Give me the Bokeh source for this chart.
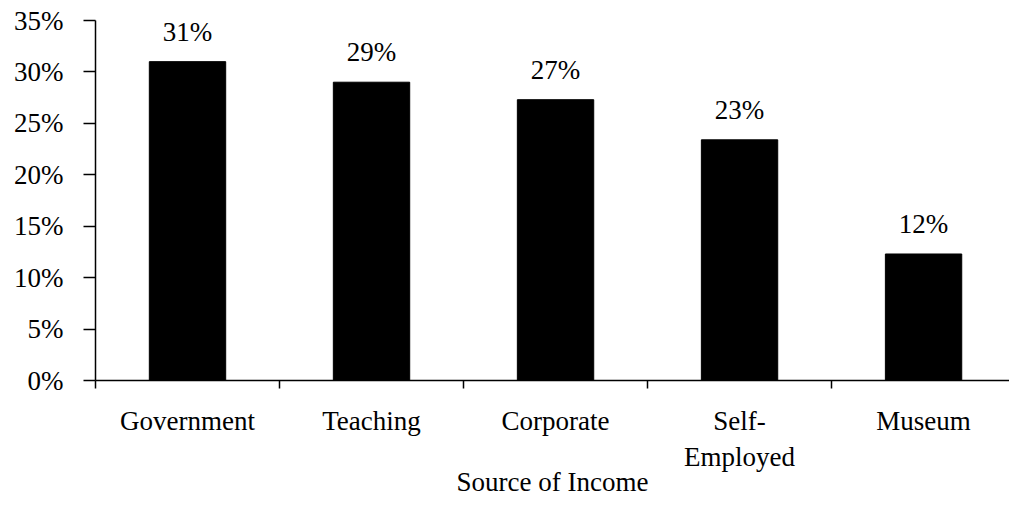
from bokeh.plotting import figure
from bokeh.models import ColumnDataSource, Range1d, FixedTicker, NumeralTickFormatter, CustomJSTickFormatter
from bokeh.core.properties import value
from bokeh.embed import file_html
from bokeh.resources import INLINE

# ---- data ----
categories = ["Government", "Teaching", "Corporate", "Self-Employed", "Museum"]
shares = [0.310, 0.290, 0.273, 0.234, 0.123]
y_ticks = [0.0, 0.05, 0.10, 0.15, 0.20, 0.25, 0.30, 0.35]
x_title = "Source of Income"

FONT = "Liberation Serif"
FS = "27px"

xs = [i + 0.5 for i in range(len(categories))]
labels = [f"{round(v * 100)}%" for v in shares]
src = ColumnDataSource(dict(x=xs, top=shares, label=labels))

p = figure(width=1009, height=516, output_backend="svg", toolbar_location=None,
           x_range=Range1d(0, 4.967), y_range=Range1d(0, 0.35),
           min_border_left=95, min_border_right=0, min_border_top=20, min_border_bottom=136)
p.outline_line_color = None
p.xgrid.grid_line_color = None
p.ygrid.grid_line_color = None
p.background_fill_color = "white"
p.border_fill_color = "white"

p.vbar(x="x", top="top", width=0.415, bottom=0, source=src,
       fill_color="black", line_color="black")

p.text(x="x", y="top", text="label", source=src, text_align="center",
       text_baseline="alphabetic", y_offset=-30,
       text_font=value(FONT), text_font_size=FS, text_color="black")

# y axis
ya = p.yaxis[0]
ya.ticker = FixedTicker(ticks=y_ticks)
ya.formatter = NumeralTickFormatter(format="0%")
ya.major_tick_out = 12
ya.major_tick_in = 0
ya.minor_tick_line_color = None
ya.axis_line_width = 1.5
ya.major_tick_line_width = 1.5
ya.axis_line_color = "black"
ya.major_tick_line_color = "black"
ya.major_label_standoff = 20
ya.major_label_text_font = FONT
ya.major_label_text_font_size = FS
ya.major_label_text_color = "black"

# x axis
xa = p.xaxis[0]
xa.ticker = FixedTicker(ticks=xs, minor_ticks=list(range(len(categories) + 1)))
xa.formatter = CustomJSTickFormatter(args=dict(names=categories),
                                     code="return names[Math.floor(tick)].replace('-', '-\\n');")
xa.major_tick_line_color = None
xa.major_tick_out = 0
xa.major_tick_in = 0
xa.minor_tick_out = 8
xa.minor_tick_in = 0
xa.minor_tick_line_width = 1.5
xa.minor_tick_line_color = "black"
xa.axis_line_width = 1.5
xa.axis_line_color = "black"
xa.major_label_standoff = 17
xa.major_label_text_font = FONT
xa.major_label_text_font_size = FS
xa.major_label_text_color = "black"
xa.axis_label = x_title
xa.axis_label_text_font = FONT
xa.axis_label_text_font_size = FS
xa.axis_label_text_font_style = "normal"
xa.axis_label_text_color = "black"
xa.axis_label_standoff = -8

open("out.html", "w").write(file_html(p, INLINE))
